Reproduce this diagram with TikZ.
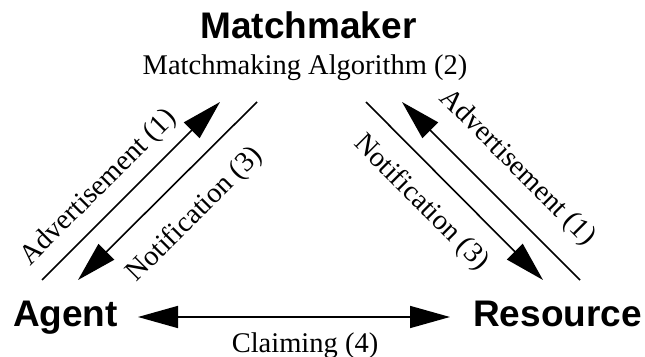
\documentclass[tikz,border=0pt]{standalone}
\usepackage{fontspec}
\setmainfont{Liberation Serif}
\setsansfont{Liberation Sans}
\usetikzlibrary{arrows.meta}
\begin{document}
\begin{tikzpicture}[x=1pt,y=1pt,
  entity/.style={font=\sffamily\bfseries\fontsize{37}{40}\selectfont, inner sep=0pt, anchor=base},
  lbl/.style={font=\fontsize{28.5}{32}\selectfont, inner sep=0pt},
  flow/.style={line width=1.6pt, -{Triangle[length=40pt,width=22pt]}},
  twoway/.style={line width=1.6pt, {Triangle[length=40pt,width=22pt]}-{Triangle[length=40pt,width=22pt]}}
]
\useasboundingbox (0,0) rectangle (645,356);

% parties
\node[entity] (matchmaker) at (308.5,317) {Matchmaker};
\node[lbl, anchor=base] (algo) at (305,281) {Matchmaking Algorithm (2)};
\node[entity] (agent) at (65.5,30) {Agent};
\node[entity] (resource) at (557.5,29) {Resource};

% end points of the message arrows
\coordinate (aAdvS) at (42,76);
\coordinate (aAdvE) at (220,254);
\coordinate (aNotS) at (257,254);
\coordinate (aNotE) at (78,76);
\coordinate (rNotS) at (366,254);
\coordinate (rNotE) at (543,76);
\coordinate (rAdvS) at (580,76);
\coordinate (rAdvE) at (402,254);
\coordinate (clL) at (138,39);
\coordinate (clR) at (450,39);

% messages
\draw[flow] (aAdvS) -- (aAdvE);
\draw[flow] (aNotS) -- (aNotE);
\draw[flow] (rNotS) -- (rNotE);
\draw[flow] (rAdvS) -- (rAdvE);
\draw[twoway] (clL) -- (clR);

% message labels
\node[lbl, rotate=45] (advL) at (99,168) {Advertisement (1)};
\node[lbl, rotate=45] (notL) at (195,141) {Notification (3)};
\node[lbl, rotate=-45] (notR) at (421,153) {Notification (3)};
\node[lbl, rotate=-45] (advR) at (517,188) {Advertisement (1)};
\node[lbl, anchor=base] (claim) at (305,4) {Claiming (4)};
\end{tikzpicture}
\end{document}
